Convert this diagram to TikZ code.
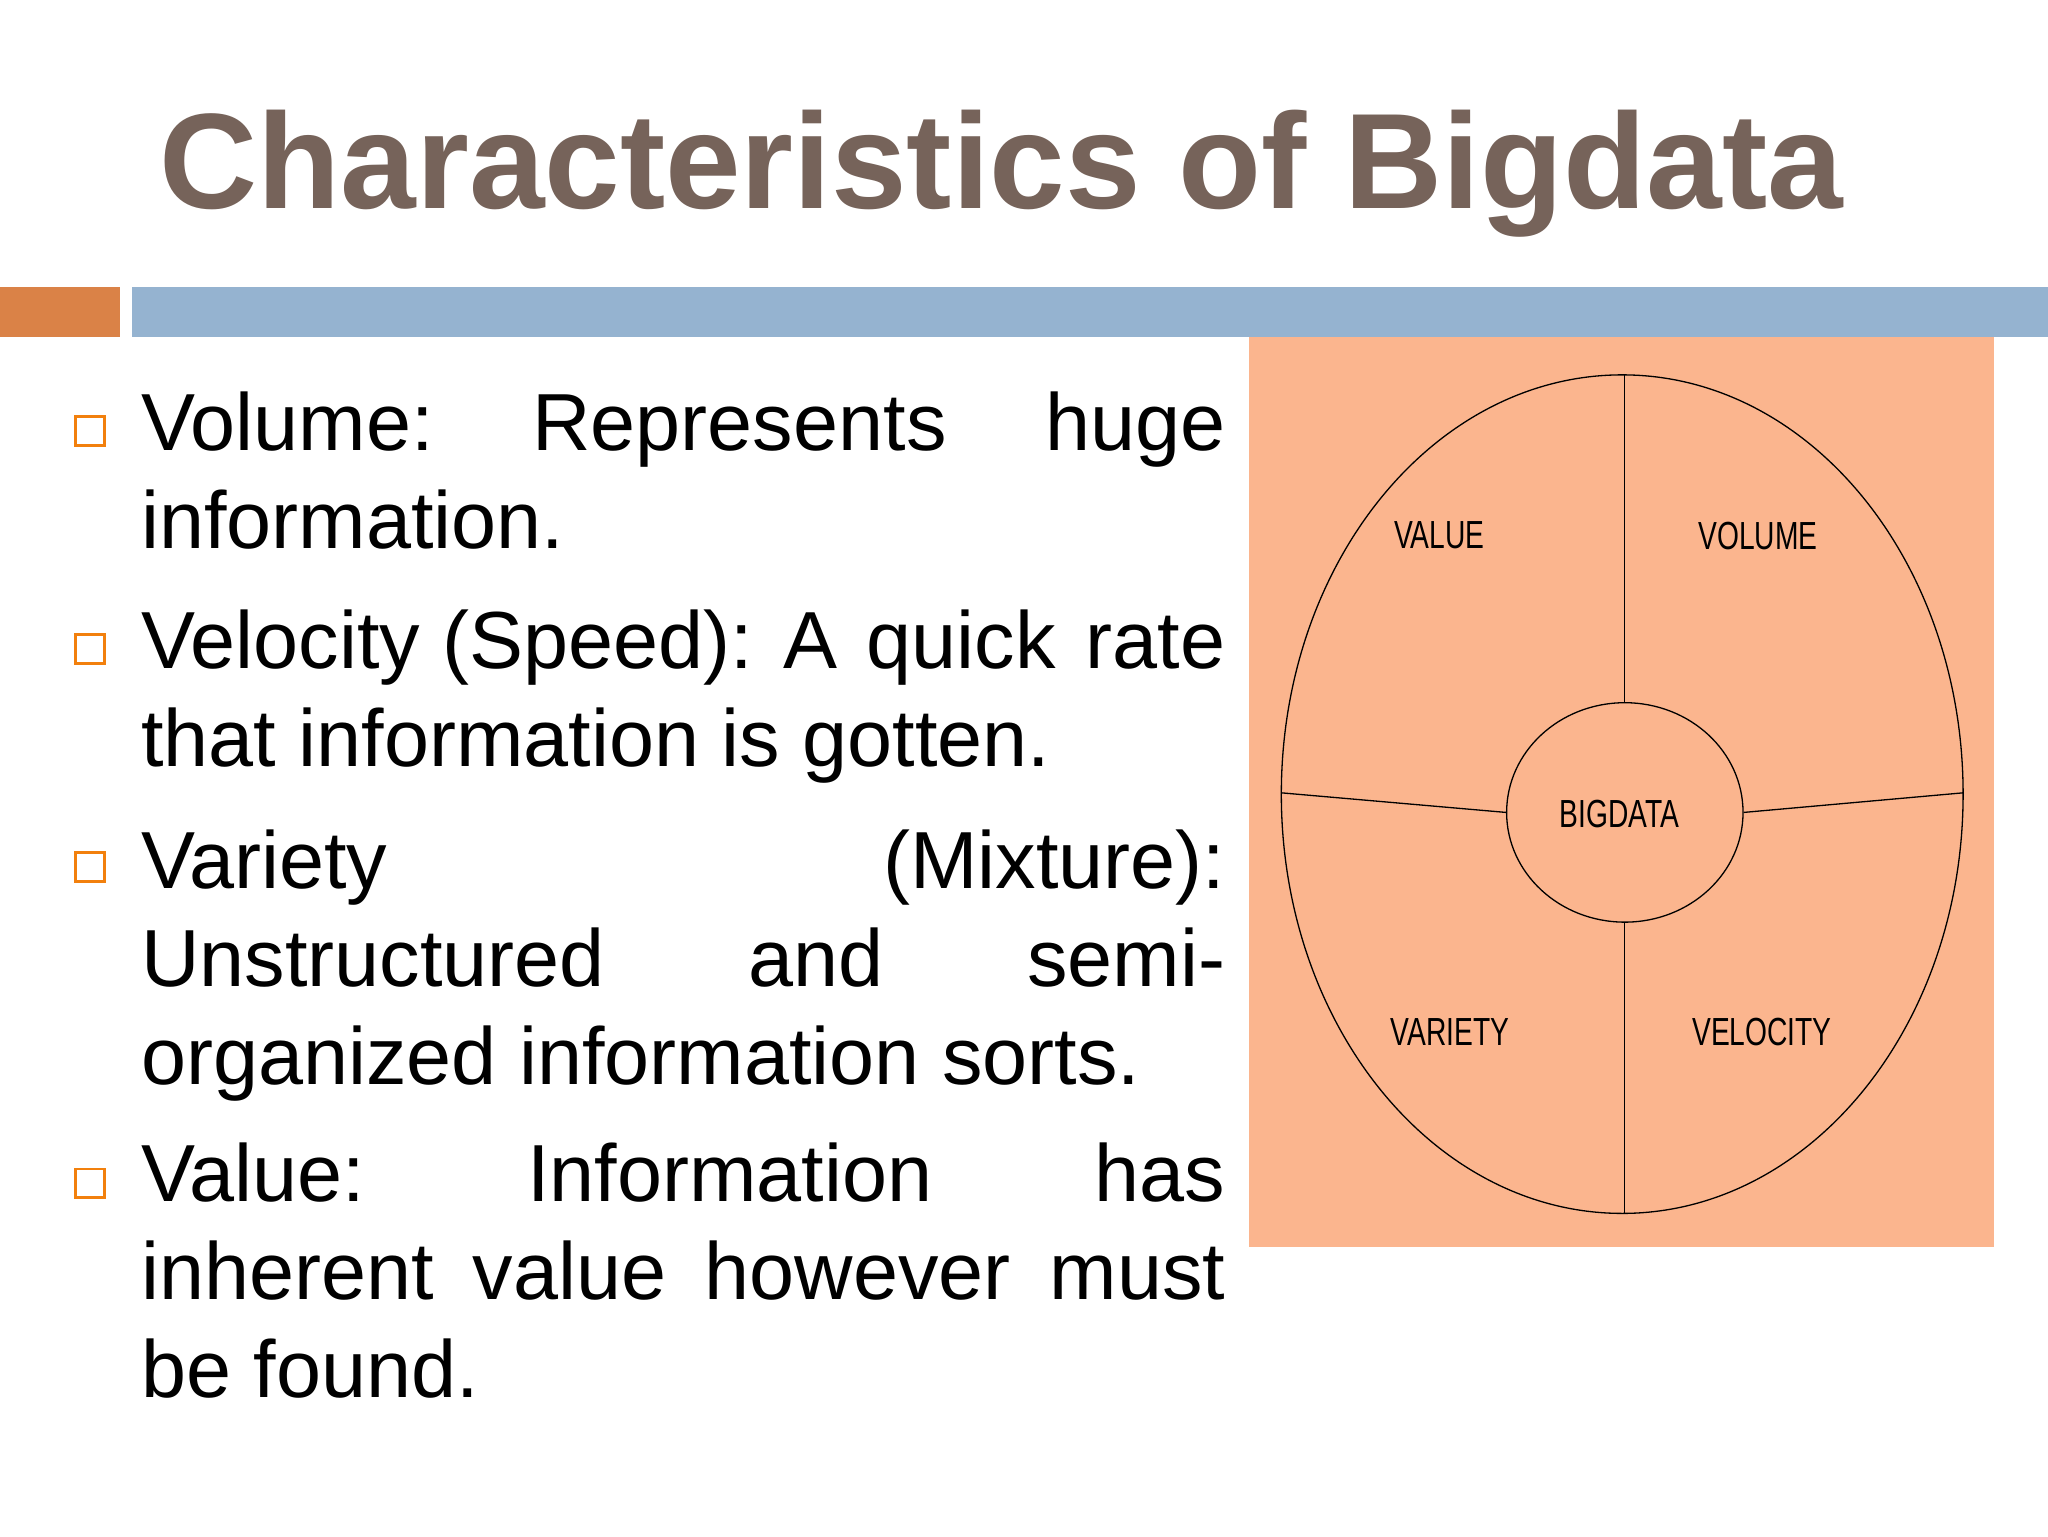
\documentclass[tikz,border=0pt]{standalone}
\usepackage{fontspec}
\usetikzlibrary{shapes.geometric}
\setmainfont{Liberation Sans}
\begin{document}
\begin{tikzpicture}[x=1pt,y=-1pt,
  ln/.style={anchor=base west,inner sep=0pt,font=\fontsize{62}{75}\selectfont},
  lab/.style={font=\fontsize{30}{30}\selectfont,xscale=0.72,transform shape,inner sep=0pt},
  bul/.style={draw=orange!80!brown,line width=2.2pt}]
\definecolor{peach}{HTML}{FBB58E}
\definecolor{barorange}{HTML}{DA8247}
\definecolor{barblue}{HTML}{95B3D0}
\definecolor{titlec}{HTML}{76635A}
\fill[white] (0,0) rectangle (1568,1176);
\useasboundingbox (0,0) rectangle (1568,1176);
\fill[barorange] (0,220) rectangle (92,258);
\fill[barblue] (101,220) rectangle (1568,258);
\node[anchor=base west,inner sep=0pt,text=titlec,font=\fontsize{104}{110}\selectfont\bfseries] (title) at (122,160) {Characteristics of Bigdata};
% bullets
\foreach \y in {330,497,664,906} \draw[bul] (58,\y-11) rectangle (80,\y+11);
\node[ln] (l1) at (108,345) {\hbox to 830pt{Volume:\hfill Represents\hfill huge}};
\node[ln] (l2) at (108,420) {information.};
\node[ln] (l3) at (108,512) {\hbox to 830pt{Velocity (Speed):\hfill A\hfill quick\hfill rate}};
\node[ln] (l4) at (108,587) {that information is gotten.};
\node[ln] (l5) at (108,680) {\hbox to 830pt{Variety\hfill (Mixture):}};
\node[ln] (l6) at (108,755) {\hbox to 830pt{Unstructured\hfill and\hfill semi-}};
\node[ln] (l7) at (108,830) {organized information sorts.};
\node[ln] (l8) at (108,920) {\hbox to 830pt{Value:\hfill Information\hfill has}};
\node[ln] (l9) at (108,995) {\hbox to 830pt{inherent\hfill value\hfill however\hfill must}};
\node[ln] (l10) at (108,1070) {be found.};
% diagram
\fill[peach] (956,258) rectangle (1527,955);
\draw[line width=1pt] (1242,608) ellipse [x radius=261,y radius=321];
\node[draw,line width=1pt,ellipse,minimum width=181,minimum height=168,inner sep=0pt] (c) at (1244,622) {};
\node[lab] at (1240,623) {BIGDATA};
\draw[line width=1pt] (1244,287) -- (c.north);
\draw[line width=1pt] (c.south) -- (1244,929);
\draw[line width=1pt] (981,607) -- (c.west);
\draw[line width=1pt] (c.east) -- (1503,607);
\node[lab] at (1102,410) {VALUE};
\node[lab] at (1346,410) {VOLUME};
\node[lab] at (1110,790) {VARIETY};
\node[lab] at (1349,790) {VELOCITY};
\end{tikzpicture}
\end{document}
